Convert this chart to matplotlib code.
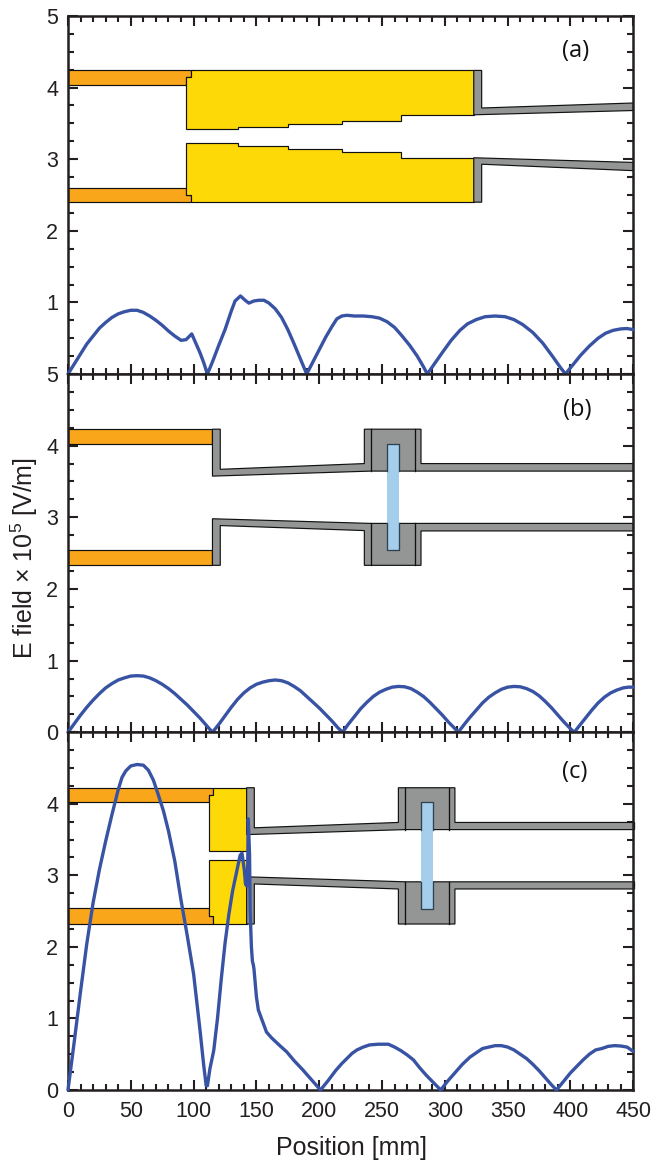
import matplotlib
matplotlib.use("Agg")
import matplotlib.pyplot as plt
from matplotlib.ticker import MultipleLocator, FixedLocator

plt.rcParams['font.family'] = ['Liberation Sans', 'DejaVu Sans']
plt.rcParams['mathtext.fontset'] = 'custom'
plt.rcParams['mathtext.rm'] = 'Liberation Sans'
plt.rcParams['mathtext.default'] = 'rm'

ORANGE = '#f9a61a'; YELLOW = '#fcd907'; GRAY = '#949695'; BLUE = '#a5cdec'
CURVE = '#3953a4'; INK = '#231f20'

# Field curves
a_x = [0, 5, 10, 15, 20, 25, 30, 35, 40, 45, 50, 55, 60, 65, 70, 75, 80, 85, 90, 94, 98.5, 102, 105, 108, 111,
       115, 120, 125, 130, 133, 137.3, 141, 144, 148, 152, 156, 160, 165, 170, 175, 180, 185, 190,
       195, 200, 205, 210, 214, 218, 222, 228, 235, 242, 248, 254, 260, 266, 272, 278, 283, 286,
       292, 298, 305, 312, 318, 325, 332, 340, 348, 355, 362, 370, 378, 386, 392, 396,
       402, 408, 415, 422, 428, 434, 440, 445, 450]
a_y = [0, .14, .28, .42, .53, .64, .72, .79, .84, .87, .89, .89, .86, .81, .75, .68, .60, .53, .47, .48, .56, .42, .3, .16, 0,
       .17, .4, .62, .88, 1.02, 1.09, 1.03, .99, 1.02, 1.03, 1.03, .99, .91, .79, .62, .42, .21, 0,
       .17, .34, .51, .66, .77, .81, .82, .81, .81, .80, .78, .73, .65, .53, .40, .25, .1, 0,
       .15, .3, .47, .61, .7, .76, .8, .81, .8, .76, .69, .58, .43, .24, .09, 0,
       .13, .26, .39, .5, .57, .61, .63, .635, .62]
b_x = [0, 5, 10, 15, 20, 25, 30, 35, 40, 45, 50, 55, 60, 65, 70, 75, 80, 85, 90, 95, 100, 105, 110, 115,
       120, 125, 130, 135, 140, 145, 150, 155, 160, 165, 170, 175, 180, 185, 190, 195, 200, 205, 210, 215, 218.6,
       223, 228, 233, 238, 243, 248, 253, 258, 263, 268, 273, 278, 283, 288, 293, 298, 303, 307, 310.6,
       315, 320, 325, 330, 335, 340, 345, 350, 355, 360, 365, 370, 375, 380, 385, 390, 395, 400, 403,
       407, 412, 417, 422, 427, 432, 437, 442, 446, 450]
b_y = [0, .12, .24, .35, .45, .54, .62, .68, .73, .76, .785, .79, .785, .76, .72, .67, .61, .54, .46, .38, .29, .2, .1, 0,
       .11, .23, .35, .46, .55, .62, .67, .7, .72, .73, .72, .69, .64, .58, .5, .42, .34, .25, .16, .06, 0,
       .11, .22, .33, .42, .5, .56, .6, .63, .64, .635, .61, .56, .5, .42, .33, .24, .14, .07, 0,
       .1, .21, .31, .41, .49, .55, .6, .63, .64, .635, .61, .57, .51, .43, .34, .24, .14, .05, 0,
       .09, .2, .31, .41, .49, .55, .59, .62, .63, .63]
c_x = [0, 5, 10, 15, 20, 25, 30, 35, 40, 43, 46, 50, 55, 60, 64, 68, 72, 76, 80, 85, 90, 95, 100, 105, 108, 110, 111,
       113, 116, 119, 122, 125, 128, 131, 134, 137, 138.5, 140.4, 141.3, 142.3,
       142.9, 143.5, 144.5, 145, 146, 146.8, 147.5, 148, 150, 151.5, 154, 158, 162, 168, 174, 180, 187, 194, 201,
       207, 213, 218, 222, 226, 230, 235, 240, 247, 255, 260, 265, 270, 275, 280, 285, 290, 296.7,
       302, 308, 314, 320, 325, 330, 335, 340, 345, 350, 355, 360, 365, 370, 375, 380, 385, 388.9,
       394, 400, 405, 410, 415, 420, 425, 430, 435, 440, 445, 450]
c_y = [0, .68, 1.38, 2.05, 2.62, 3.08, 3.48, 3.85, 4.2, 4.37, 4.46, 4.53, 4.55, 4.54, 4.47, 4.33, 4.12, 3.9, 3.62, 3.2, 2.65, 2.15, 1.62, .85, .35, .06, .06,
       .3, .55, 1.0, 1.55, 2.05, 2.45, 2.78, 3.03, 3.28, 3.31, 3.07, 2.88, 2.85,
       2.9, 3.79, 3.3, 2.5, 2.0, 1.8, 1.75, 1.7, 1.3, 1.12, 1.0, .81, .73, .63, .535, .41, .28, .14, 0,
       .13, .27, .37, .44, .51, .56, .6, .63, .64, .64, .6, .55, .49, .42, .31, .21, .12, 0,
       .12, .24, .36, .46, .52, .58, .6, .62, .62, .6, .56, .5, .44, .36, .27, .17, .07, 0,
       .11, .24, .33, .42, .5, .56, .58, .61, .62, .615, .6, .54]

# Cavity outlines (mm, E-field axis units)
a_orange = [[(0, 4.24), (98, 4.24), (98, 4.15), (94.3, 4.15), (94.3, 4.03), (0, 4.03)],
            [(0, 2.60), (94.3, 2.60), (94.3, 2.50), (98, 2.50), (98, 2.40), (0, 2.40)]]
a_yellow = [[(98, 4.24), (323, 4.24), (323, 3.62), (265, 3.62), (265, 3.54), (218, 3.54), (218, 3.49), (175, 3.49), (175, 3.45),
             (135, 3.45), (135, 3.42), (94.3, 3.42), (94.3, 4.15), (98, 4.15)],
            [(94.3, 3.22), (135, 3.22), (135, 3.19), (175, 3.19), (175, 3.14), (218, 3.14), (218, 3.10), (265, 3.10), (265, 3.02), (323, 3.02),
             (323, 2.40), (98, 2.40), (98, 2.50), (94.3, 2.50)]]
a_gray = [[(323, 4.24), (329.3, 4.24), (329.3, 3.715), (450, 3.785), (450, 3.68), (323, 3.62)],
          [(323, 3.02), (450, 2.955), (450, 2.84), (329.3, 2.93), (329.3, 2.40), (323, 2.40)]]

b_orange = [[(0, 4.23), (115, 4.23), (115, 4.03), (0, 4.03)],
            [(0, 2.54), (115, 2.54), (115, 2.33), (0, 2.33)]]
b_gray = [[(115, 4.23), (121.2, 4.23), (121.2, 3.67), (235.9, 3.75), (235.9, 4.23), (281, 4.23), (281, 3.75), (450, 3.75), (450, 3.645), (241, 3.645), (115, 3.575)],
          [(115, 2.98), (241, 2.915), (450, 2.915), (450, 2.81), (281, 2.81), (281, 2.33), (235.9, 2.33), (235.9, 2.815), (121.2, 2.885), (121.2, 2.33), (115, 2.33)]]
b_lines = [241, 276.5]
b_window = (253.6, 263.2, 4.02, 2.54)
b_gaps = (3.645, 2.915)

c_orange = [[(0, 4.225), (115.2, 4.225), (115.2, 4.12), (112.5, 4.12), (112.5, 4.02), (0, 4.02)],
            [(0, 2.54), (112.5, 2.54), (112.5, 2.43), (115.2, 2.43), (115.2, 2.32), (0, 2.32)]]
c_yellow = [[(115.2, 4.225), (142.2, 4.225), (142.2, 3.34), (112.5, 3.34), (112.5, 4.12), (115.2, 4.12)],
            [(112.5, 3.21), (142.2, 3.21), (142.2, 2.32), (115.2, 2.32), (115.2, 2.43), (112.5, 2.43)]]
c_gray = [[(142.2, 4.225), (148.3, 4.225), (148.3, 3.665), (263, 3.74), (263, 4.225), (308, 4.225), (308, 3.74), (451, 3.74), (451, 3.64), (268.3, 3.64), (142.2, 3.57)],
          [(142.2, 2.98), (268.3, 2.91), (451, 2.91), (451, 2.81), (308, 2.81), (308, 2.32), (263, 2.32), (263, 2.81), (148.3, 2.88), (148.3, 2.32), (142.2, 2.32)]]
c_lines = [268.3, 303.5]
c_window = (281, 290.3, 4.02, 2.53)
c_gaps = (3.64, 2.91)

x_major = [0, 50, 100, 150, 200, 250, 300, 350, 400, 450]
y_labels = [['', '1', '2', '3', '4', '5'], ['0', '1', '2', '3', '4', '5'], ['0', '1', '2', '3', '4', '']]
panel_tags = ['(a)', '(b)', '(c)']
tag_xy = [(404, 4.51), (405, 4.50), (403, 4.45)]

W, H = 651, 1161
fig = plt.figure(figsize=(W / 100, H / 100), dpi=100)
L, R = 68, 633.3
tops = [16, 374, 732.3]
bots = [374, 732.3, 1090]
axes = [fig.add_axes([L / W, 1 - b / H, (R - L) / W, (b - t) / H]) for t, b in zip(tops, bots)]


def fill(ax, polys, color):
    for p in polys:
        xs, ys = zip(*p)
        ax.fill(xs, ys, facecolor=color, edgecolor='#111111', lw=0.85, joinstyle='miter', zorder=2)


def flange(ax, lines, window, gaps, ylim):
    upper_gap, lower_gap = gaps
    top, bot = ylim
    for xv in lines:
        ax.plot([xv, xv], [upper_gap, top], color='#111111', lw=0.95, zorder=3)
        ax.plot([xv, xv], [bot, lower_gap], color='#111111', lw=0.95, zorder=3)
    x0, x1, wt, wb = window
    ax.fill([x0, x1, x1, x0], [wt, wt, wb, wb], facecolor=BLUE, edgecolor='none', zorder=3)
    ax.plot([x0, x0, x1, x1], [upper_gap, wt, wt, upper_gap], color='#2f4450', lw=0.95, zorder=4)
    ax.plot([x0, x0, x1, x1], [lower_gap, wb, wb, lower_gap], color='#2f4450', lw=0.95, zorder=4)


fill(axes[0], a_orange, ORANGE); fill(axes[0], a_yellow, YELLOW); fill(axes[0], a_gray, GRAY)
fill(axes[1], b_orange, ORANGE); fill(axes[1], b_gray, GRAY)
flange(axes[1], b_lines, b_window, b_gaps, (4.23, 2.33))
fill(axes[2], c_orange, ORANGE); fill(axes[2], c_yellow, YELLOW); fill(axes[2], c_gray, GRAY)
flange(axes[2], c_lines, c_window, c_gaps, (4.225, 2.32))
for p in axes[2].patches + axes[2].lines:
    p.set_clip_on(False)

for ax, xs, ys in zip(axes, (a_x, b_x, c_x), (a_y, b_y, c_y)):
    ax.plot(xs, ys, color=CURVE, lw=2.4, solid_joinstyle='round', solid_capstyle='round', zorder=6, clip_on=False)

for i, ax in enumerate(axes):
    ax.set_xlim(0, 450)
    ax.set_ylim(0, 5)
    ax.xaxis.set_major_locator(FixedLocator(x_major))
    ax.xaxis.set_minor_locator(MultipleLocator(10))
    ax.yaxis.set_major_locator(FixedLocator(range(6)))
    ax.set_yticklabels(y_labels[i])
    ax.yaxis.set_minor_locator(MultipleLocator(0.25))
    ax.tick_params(which='major', direction='in', top=True, right=True, length=7.2, width=1.5, color=INK,
                   labelsize=15.5, labelcolor=INK)
    ax.tick_params(axis='y', which='major', pad=7)
    ax.tick_params(axis='x', which='major', pad=8, labelbottom=(i == 2))
    ax.tick_params(which='minor', direction='in', top=True, right=True, length=4.2, width=1.5, color=INK)
    for s in ax.spines.values():
        s.set_linewidth(1.8)
        s.set_color(INK)
        s.set_zorder(5)
    ax.text(*tag_xy[i], panel_tags[i], family='Open Sans', fontsize=17, color='#111111', ha='center', va='center', zorder=7)

fig.text(351 / W, 1 - 1148 / H, 'Position [mm]', fontsize=18, color=INK, ha='center', va='center')
fig.text(24 / W, 1 - 558 / H, r'E field $\times$ 10$^{5}$ [V/m]', fontsize=18, color=INK, rotation=90, ha='center', va='center')

fig.savefig('out.png', dpi=100)
